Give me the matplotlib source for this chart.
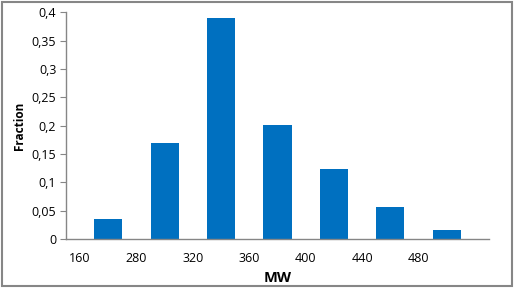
import matplotlib
matplotlib.use("Agg")
import matplotlib.pyplot as plt
from matplotlib.patches import Rectangle

# data
labels = ["160", "280", "320", "360", "400", "440", "480"]
fraction = [0.035, 0.17, 0.39, 0.201, 0.124, 0.057, 0.016]
yticks = [0, 0.05, 0.1, 0.15, 0.2, 0.25, 0.3, 0.35, 0.4]

plt.rcParams['font.family'] = ['Open Sans', 'DejaVu Sans']

fig = plt.figure(figsize=(5.14, 2.92), dpi=100)
ax = fig.add_axes([66/514, (292-239)/292, (489-66)/514, (239-12.3)/292])

pos = [i + 0.5 for i in range(len(fraction))]
ax.bar(pos, fraction, width=0.5, color='#0070C0')

ax.set_xlim(-0.25, len(labels) + 0.25)
ax.set_ylim(0, 0.4)
ax.set_xticks(range(len(labels)))
ax.set_xticklabels(labels, fontsize=9)
ax.set_yticks(yticks)
ax.set_yticklabels([("%g" % v).replace('.', ',') for v in yticks], fontsize=9)
ax.tick_params(axis='x', length=0, pad=9)
ax.tick_params(axis='y', length=4, width=0.8, color='#868686', pad=3)

for s in ['top', 'right']:
    ax.spines[s].set_visible(False)
for s in ['left', 'bottom']:
    ax.spines[s].set_color('#868686')
    ax.spines[s].set_linewidth(1)

ax.set_xlabel("MW", fontsize=10.5, fontweight='bold', labelpad=5)
ax.set_ylabel("Fraction", fontsize=8.5, fontweight='bold', labelpad=4)

fig.patches.append(Rectangle((1.5/514, 1 - 285.5/292), 510/514, 284/292,
                             transform=fig.transFigure, fill=False,
                             edgecolor='#868686', linewidth=1.5))

fig.savefig("out.png", dpi=100)
